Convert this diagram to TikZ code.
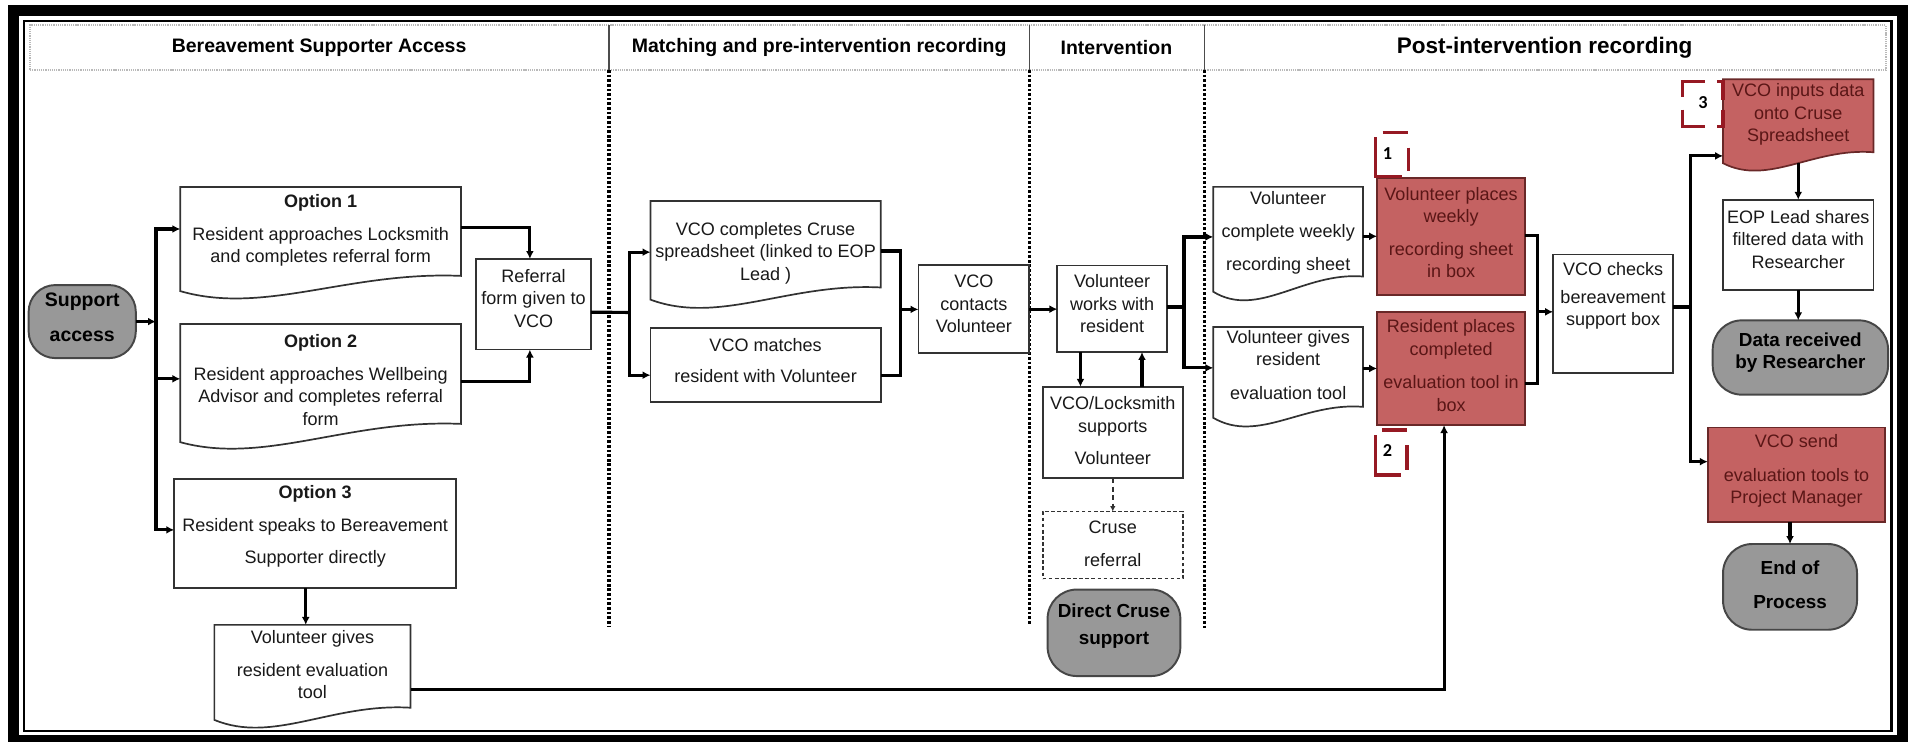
\documentclass[tikz,border=0pt]{standalone}
\usepackage{fontspec}
\setmainfont{Liberation Sans}
\newfontfamily\markfont{Carlito}
\usetikzlibrary{arrows.meta,calc}

\definecolor{redfill}{RGB}{196,98,98}
\definecolor{redline}{RGB}{105,40,40}
\definecolor{redtextc}{RGB}{90,22,22}
\definecolor{termgray}{RGB}{152,152,152}
\definecolor{termline}{RGB}{70,70,70}
\definecolor{boxline}{RGB}{50,50,50}
\definecolor{markred}{RGB}{150,25,35}

% rectangle node given by its corners: name, style, x1, y1, x2, y2
\newcommand\putbox[6]{%
  \node[#2, inner sep=0pt, outer sep=0pt,
        minimum width={(#5-#3)*1pt}, minimum height={(#6-#4)*1pt}]
        (#1) at ({(#3+#5)/2},{(#4+#6)/2}) {};}

% document shape with wavy bottom: name, style, x1, top, x2, right-bottom, left-bottom, lowest
\newcommand\putdoc[8]{%
  \draw[#2] (#3,#4) -- (#5,#4) -- (#5,#6)
     .. controls ({#3+0.6*(#5-#3)},{#6-4}) and ({#3+0.3*(#5-#3)},{#8+14}) .. (#3,#7) -- cycle;
  \node[inner sep=0pt, outer sep=0pt,
        minimum width={(#5-#3)*1pt}, minimum height={(#6-#4)*1pt}]
        (#1) at ({(#3+#5)/2},{(#4+#6)/2}) {};}

\begin{document}
\begin{tikzpicture}[x=1pt,y=-1pt,
  flow/.style={line width=2.6pt, draw=black, line join=miter, -{Latex[length=6.5pt,width=6.5pt]}},
  flowline/.style={line width=2.6pt, draw=black},
  dashflow/.style={line width=1.5pt, draw=boxline, dash pattern=on 4pt off 3pt, -{Latex[length=4.5pt,width=4.5pt]}},
  plainbox/.style={draw=boxline, line width=1.4pt, fill=white},
  dashbox/.style={draw=boxline, line width=1.3pt, dash pattern=on 3pt off 2pt, fill=white},
  redbox/.style={draw=redline, line width=1.4pt, fill=redfill},
  termbox/.style={draw=termline, line width=1.6pt, fill=termgray, rounded corners=24pt},
  boxtext/.style={align=center, inner sep=0pt, text=black!90, font=\fontsize{14.8}{18.5}\selectfont},
  redtext/.style={boxtext, text=redtextc},
  termtext/.style={align=center, inner sep=0pt, text=black, font=\fontsize{15.5}{18.5}\selectfont\bfseries},
  headtext/.style={inner sep=0pt, font=\fontsize{16}{19}\selectfont\bfseries},
  headbox/.style={draw=gray!55, line width=1.6pt, dash pattern=on 1pt off 0.8pt},
  headsep/.style={draw=gray!60!black, line width=1pt},
  lanesep/.style={line width=2.6pt, dash pattern=on 2.2pt off 1.6pt},
  markline/.style={draw=markred, line width=2.6pt},
  digit/.style={inner sep=0pt, font=\markfont\fontsize{15}{16}\selectfont\bfseries}]

\useasboundingbox (0,0) rectangle (1568,609);

% double frame
\draw[line width=9pt] (11.1,8.6) rectangle (1561.8,607.8);
\draw[line width=1.8pt] (19.8,17.2) rectangle (1552.8,599.8);

% lane headers
\putbox{header}{headbox}{24.6}{20.5}{1548}{57.5}
\draw[headsep] (500,20.5) -- (500,57.5);
\draw[headsep] (845,20.5) -- (845,57.5);
\draw[headsep] (988.5,20.5) -- (988.5,57.5);
\node[headtext] (h1) at (262,39) {Bereavement Supporter Access};
\node[headtext] (h2) at (672.5,39) {Matching and pre-intervention recording};
\node[headtext] (h3) at (916.5,39) {Intervention};
\node[headtext, font=\fontsize{18.5}{22}\selectfont\bfseries] (h4) at (1268,39) {Post-intervention recording};

% lane separators
\draw[lanesep] (500,57.5) -- (500,515);
\draw[lanesep] (845,57.5) -- (845,513);
\draw[lanesep] (988.5,57.5) -- (988.5,516);

% shapes
\putbox{support}{termbox, rounded corners=22pt}{23.5}{234}{111.5}{294}
\putdoc{opt1}{plainbox}{148}{153.5}{378.5}{226.5}{239}{245}
\putdoc{opt2}{plainbox}{148}{266}{378.5}{348}{363}{368}
\putbox{opt3}{plainbox}{143}{393}{374.5}{483}
\putdoc{vgive1}{plainbox}{176}{513}{337}{581}{591}{597}
\putbox{ref}{plainbox}{391}{212.6}{485}{287}
\putdoc{vcocomp}{plainbox}{534}{165}{723}{236}{246}{253}
\putbox{vcomatch}{plainbox}{534}{269}{723}{330}
\putbox{contacts}{plainbox}{754}{217.6}{845}{290}
\putbox{works}{plainbox}{868}{218}{958}{289}
\putbox{locks}{plainbox}{856}{317.5}{971}{392.5}
\putbox{cruseref}{dashbox}{856}{420}{971}{475}
\putbox{direct}{termbox}{860}{484}{969}{555}
\putdoc{weekly}{plainbox}{996}{153.4}{1119}{227}{239.5}{248}
\putdoc{vgive2}{plainbox}{996}{268.5}{1119}{334}{343}{350.5}
\putbox{red1}{redbox}{1130.5}{146}{1252}{242}
\putbox{red2}{redbox}{1130.5}{256}{1252}{349}
\putbox{checks}{plainbox}{1275}{209}{1373.5}{306}
\putdoc{inputs}{redbox}{1414.5}{65}{1538}{125}{134}{139}
\putbox{eop}{plainbox}{1414.5}{164}{1538}{238}
\putbox{data}{termbox}{1406}{263}{1550}{324}
\putbox{send}{redbox}{1402}{351}{1547.6}{428.5}
\putbox{endp}{termbox}{1414.5}{446.6}{1524.5}{517}

% numbered markers
\putbox{m1}{}{1129}{109}{1156}{145}
\putbox{m2}{}{1129}{353}{1155}{390}
\putbox{m3}{}{1381}{67}{1414.5}{104}
\foreach \m in {m1,m2}{
  \draw[markline] ($(\m.north west)!0.22!(\m.north east)$) -- (\m.north east);
  \draw[markline] ($(\m.north east)!0.34!(\m.south east)$) -- ($(\m.north east)!0.88!(\m.south east)$);
  \draw[markline] ($(\m.south west)!0.8!(\m.south east)$) -- (\m.south west) -- ($(\m.south west)!0.9!(\m.north west)$);
}
\draw[markline] ($(m3.north west)!0.55!(m3.north east)$) -- (m3.north west) -- ($(m3.north west)!0.35!(m3.south west)$);
\draw[markline] ($(m3.north east)!0.15!(m3.north west)$) -- (m3.north east) -- ($(m3.north east)!0.4!(m3.south east)$);
\draw[markline] ($(m3.north west)!0.62!(m3.south west)$) -- (m3.south west) -- ($(m3.south west)!0.55!(m3.south east)$);
\draw[markline] ($(m3.north east)!0.62!(m3.south east)$) -- (m3.south east) -- ($(m3.south east)!0.15!(m3.south west)$);
\node[digit] (m1-t) at (1139,126) {1};
\node[digit] (m2-t) at (1139,369.5) {2};
\node[digit] (m3-t) at (1398,84.5) {3};

% junction points
\coordinate (j1) at (128,264);
\coordinate (j1a) at (128,188);
\coordinate (j1c) at (128,311);
\coordinate (j1b) at (128,435);
\coordinate (j2) at (517,256.5);
\coordinate (j2a) at (517,207);
\coordinate (j2b) at (517,308);
\coordinate (j3a) at (739,206);
\coordinate (j3b) at (739,308.6);
\coordinate (j3m) at (739,254);
\coordinate (j4) at (972,252);
\coordinate (j4a) at (972,194.5);
\coordinate (j4b) at (972,302);
\coordinate (j5a) at (1262,193);
\coordinate (j5b) at (1262,314.5);
\coordinate (j5m) at (1262,256);
\coordinate (j6) at (1387.5,252);
\coordinate (j6a) at (1387.5,128);
\coordinate (j6b) at (1387.5,379);

% connectors
\draw[flow] (support.east) -- (j1);
\draw[flow] (j1b) -- (j1a) -- (j1a -| opt1.west);
\draw[flow] (j1a) -- (j1b) -- (j1b -| opt3.west);
\draw[flow] (j1c) -- (j1c -| opt2.west);
\draw[flow] ([yshift=3.5pt]opt1.east) -| ([xshift=-3pt]ref.north);
\draw[flow] ([yshift=-6.5pt]opt2.east) -| ([xshift=-3pt]ref.south);
\draw[flow] ([xshift=-5.5pt]vgive1.north |- opt3.south) -- ([xshift=-5.5pt]vgive1.north);
\draw[flowline] ([yshift=-6.5pt]ref.east) -- (j2);
\draw[flow] (j2b) -- (j2a) -- (j2a -| vcocomp.west);
\draw[flow] (j2a) -- (j2b) -- (j2b -| vcomatch.west);
\draw[flowline] (j3a -| vcocomp.east) -- (j3a) -- (j3b) -- (j3b -| vcomatch.east);
\draw[flow] (j3m) -- (j3m -| contacts.west);
\draw[flow] (contacts.east) -- (contacts.east -| works.west);
\draw[flowline] (works.east |- j4) -- (j4);
\draw[flow] (j4b) -- (j4a) -- (j4a -| weekly.west);
\draw[flow] (j4a) -- (j4b) -- (j4b -| vgive2.west);
\draw[flow] ([xshift=-26pt]works.south) -- ([xshift=-26pt]works.south |- locks.north);
\draw[flow] ([xshift=24pt]locks.north) -- ([xshift=24pt]locks.north |- works.south);
\draw[dashflow] (locks.south) -- (cruseref.north);
\draw[flow] (weekly.east |- red1.west) -- (red1.west);
\draw[flow] (vgive2.east |- red2.west) -- (red2.west);
\draw[flowline] (j5a -| red1.east) -- (j5a) -- (j5b) -- (j5b -| red2.east);
\draw[flow] (j5m) -- (j5m -| checks.west);
\draw[flowline] (checks.east |- j6) -- (j6);
\draw[flow] (j6b) -- (j6a) -- (j6a -| inputs.west);
\draw[flow] (j6a) -- (j6b) -- (j6b -| send.west);
\draw[flow] ([yshift=-9pt]inputs.south) -- (eop.north);
\draw[flow] (eop.south) -- (eop.south |- data.north);
\draw[flow] (endp.north |- send.south) -- (endp.north);
\draw[flow] ([yshift=-19pt]vgive1.east) -| ([xshift=-5.75pt]red2.south);

% texts
\node[termtext, font=\fontsize{16}{18.5}\selectfont\bfseries] (support-t) at (67.5,260.5) {Support\\[10.5pt]access};
\node[boxtext] (opt1-t) at (263.25,189.25) {\textbf{Option 1}\\[8pt]Resident approaches Locksmith\\and completes referral form};
\node[boxtext] (opt2-t) at (263.25,312) {\textbf{Option 2}\\[8.5pt]Resident approaches Wellbeing\\Advisor and completes referral\\form};
\node[boxtext] (opt3-t) at (258.75,432.25) {\textbf{Option 3}\\[8.5pt]Resident speaks to Bereavement\\[8pt]Supporter directly};
\node[boxtext] (vgive1-t) at (256.5,545.5) {Volunteer gives\\[8.5pt]resident evaluation\\tool};
\node[boxtext] (ref-t) at (438,245) {Referral\\form given to\\VCO};
\node[boxtext] (vcocomp-t) at (628.5,207.75) {VCO completes Cruse\\spreadsheet (linked to EOP\\Lead )};
\node[boxtext] (vcomatch-t) at (628.5,295.8) {VCO matches\\[7pt]resident with Volunteer};
\node[boxtext] (contacts-t) at (799.5,249.5) {VCO\\contacts\\Volunteer};
\node[boxtext] (works-t) at (913,249.5) {Volunteer\\works with\\resident};
\node[boxtext] (locks-t) at (913.5,353.5) {VCO/Locksmith\\supports\\[7.5pt]Volunteer};
\node[boxtext] (cruseref-t) at (913.5,446.25) {Cruse\\[9pt]referral};
\node[termtext] (direct-t) at (914.5,514) {Direct Cruse\\[3.5pt]support};
\node[boxtext] (weekly-t) at (1057.5,191) {Volunteer\\[8.5pt]complete weekly\\[8.5pt]recording sheet};
\node[boxtext] (vgive2-t) at (1057.5,299.5) {Volunteer gives\\resident\\[9pt]evaluation tool};
\node[redtext] (red1-t) at (1191.25,191) {Volunteer places\\weekly\\[8pt]recording sheet\\in box};
\node[redtext] (red2-t) at (1191.25,300.25) {Resident places\\completed\\[9pt]evaluation tool in\\box};
\node[boxtext] (checks-t) at (1324.25,242.75) {VCO checks\\[4.5pt]bereavement\\support box};
\node[redtext] (inputs-t) at (1476.25,94) {VCO inputs data\\onto Cruse\\Spreadsheet};
\node[boxtext] (eop-t) at (1476.25,196.5) {EOP Lead shares\\filtered data with\\Researcher};
\node[termtext] (data-t) at (1478,289.5) {Data received\\by Researcher};
\node[redtext] (send-t) at (1474.8,386.75) {VCO send\\[9pt]evaluation tools to\\Project Manager};
\node[termtext] (endp-t) at (1469.5,480) {End of\\[9.5pt]Process};

\end{tikzpicture}
\end{document}
